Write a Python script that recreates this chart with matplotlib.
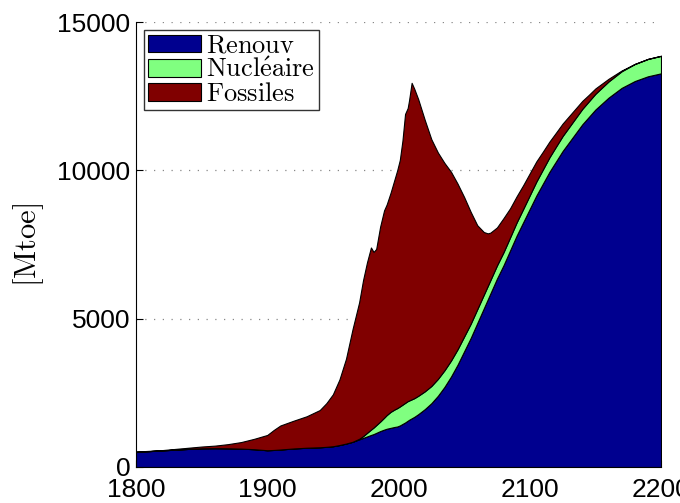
#!python3
# world primary energy supply by source, history and scenario up to 2200

import matplotlib
matplotlib.use("Agg")
import matplotlib.pyplot as plt
from matplotlib.patches import Patch

years = [1800, 1820, 1840, 1850, 1860, 1870, 1880, 1890, 1900, 1905,
         1910, 1920, 1930, 1940, 1945, 1950, 1955, 1960, 1965, 1970,
         1973, 1976, 1979, 1981, 1983, 1986, 1989, 1991, 1994, 1997,
         1999, 2001, 2003, 2005, 2007, 2008, 2010, 2012, 2015, 2020,
         2025, 2030, 2035, 2040, 2045, 2050, 2055, 2060, 2065, 2068,
         2070, 2075, 2080, 2085, 2090, 2095, 2100, 2105, 2110, 2115,
         2120, 2125, 2130, 2135, 2140, 2145, 2150, 2160, 2170, 2180,
         2190, 2200]

# renewables (wood, hydro, then solar/wind) [Mtoe]
renouv = [510, 560, 610, 630, 635, 630, 620, 600, 565, 575,
          590, 625, 650, 665, 680, 700, 740, 790, 850, 930,
          980, 1030, 1080, 1110, 1150, 1210, 1260, 1290, 1320, 1350,
          1365, 1400, 1450, 1500, 1560, 1590, 1640, 1690, 1780, 1950,
          2150, 2400, 2700, 3050, 3450, 3900, 4350, 4850, 5350, 5650,
          5850, 6350, 6800, 7300, 7800, 8250, 8700, 9150, 9550, 9950,
          10300, 10650, 10950, 11250, 11550, 11800, 12050, 12450, 12780, 13010,
          13170, 13270]

nucleaire = [0, 0, 0, 0, 0, 0, 0, 0, 0, 0,
             0, 0, 0, 0, 0, 0, 0, 0, 0, 20,
             60, 120, 180, 220, 260, 320, 400, 460, 540, 590,
             620, 640, 650, 660, 660, 650, 640, 630, 620, 600,
             580, 570, 560, 540, 520, 500, 480, 470, 460, 455,
             450, 445, 440, 440, 445, 450, 460, 470, 480, 490,
             500, 505, 510, 515, 520, 525, 530, 545, 560, 575,
             585, 590]

fossiles = [10, 10, 40, 60, 85, 140, 220, 350, 515, 675,
            810, 935, 1060, 1255, 1470, 1750, 2210, 2860, 3800, 4600,
            5260, 5750, 6140, 5920, 5940, 6570, 6990, 7100, 7390, 7760,
            8015, 8310, 8900, 9740, 9880, 10110, 10670, 10430, 10000, 9150,
            8320, 7630, 6990, 6360, 5580, 4700, 3770, 2830, 2110, 1770,
            1600, 1280, 1150, 980, 880, 800, 740, 680, 600, 530,
            470, 420, 370, 320, 270, 220, 180, 90, 25, 0,
            0, 0]

labels = ["Renouv", r"Nucl\acute{e}aire", "Fossiles"]
colors = ["#00008F", "#80FF80", "#800000"]

plt.rcParams["font.family"] = ["Liberation Sans", "DejaVu Sans"]
plt.rcParams["mathtext.fontset"] = "cm"

fig = plt.figure(figsize=(6.8, 5.03), dpi=100)
ax = fig.add_axes([136 / 680, 36 / 503, 525 / 680, 445 / 503])

ax.stackplot(years, renouv, nucleaire, fossiles, colors=colors,
             edgecolor="black", linewidth=0.8, zorder=2)

ax.set_xlim(1800, 2200)
ax.set_ylim(0, 15000)
ax.set_xticks([1800, 1900, 2000, 2100, 2200])
ax.set_yticks([0, 5000, 10000, 15000])
ax.tick_params(axis="both", direction="in", labelsize=19, length=5,
               width=0.8)
ax.tick_params(axis="x", pad=8)
ax.tick_params(axis="y", pad=4)

# dotted horizontal grid, as in MATLAB
ax.yaxis.grid(True, linestyle=(0, (1, 6)), color="#888888", linewidth=0.9)
ax.set_axisbelow(True)
ax.spines["top"].set_visible(False)
ax.spines["right"].set_visible(False)
ax.spines["left"].set_zorder(3)

ax.set_ylabel(r"$\mathrm{[Mtoe]}$", fontsize=22, labelpad=8)

handles = [Patch(facecolor=c, edgecolor="black", linewidth=0.8) for c in colors]
leg = ax.legend(handles, [r"$\mathrm{%s}$" % l for l in labels],
                loc="upper left", fontsize=19, frameon=True, fancybox=False,
                handlelength=2.0, handleheight=0.65, labelspacing=0.0,
                handletextpad=0.2, borderpad=0.15, borderaxespad=0.3)
leg.get_frame().set_edgecolor("black")
leg.get_frame().set_linewidth(1.0)

plt.savefig("out.png", dpi=100)
